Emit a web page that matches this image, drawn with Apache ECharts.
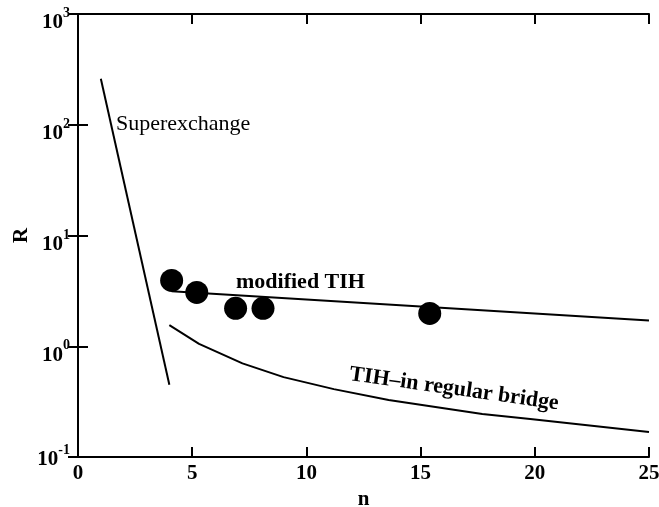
<!DOCTYPE html>
<html>
<head>
<meta charset="utf-8">
<script src="https://cdn.jsdelivr.net/npm/echarts@6/dist/echarts.min.js"></script>
<style>
  html, body { margin: 0; padding: 0; background: #fff; }
  #main { width: 659px; height: 507px; }
</style>
</head>
<body>
<div id="main"></div>
<script>
// Data
const superX = [1.0, 4.0];
const superY = [260, 0.45];

const modX = [4.1, 25];
const modY = [3.13, 1.71];

const dotX = [4.1, 5.2, 6.9, 8.1, 15.4];
const dotY = [3.93, 3.06, 2.2, 2.2, 1.98];

const bridgeX = [4.0, 5.3, 7.2, 9.0, 11.2, 13.6, 17.7, 19.8, 25];
const bridgeY = [1.55, 1.05, 0.70, 0.526, 0.41, 0.327, 0.244, 0.22, 0.168];

const xTicks = [0, 5, 10, 15, 20, 25];
const yExponents = [-1, 0, 1, 2, 3];

const zip = (xs, ys) => xs.map((x, i) => [x, ys[i]]);

var myChart = echarts.init(document.getElementById("main"));

const serif = "Liberation Serif";
const lineStyle = { color: "#000", width: 2 };

// 10^e labels, bottom one stays centred on its tick, others sit a bit lower
function yLabel(v) {
  let e = Math.round(Math.log10(v));
  if (yExponents.indexOf(e) < 0) return "";
  if (e === yExponents[0]) return "{b0|10}{s|" + e + "}";
  return "{b|10}{s|" + e + "}";
}

var option = {
  animation: false,
  textStyle: { fontFamily: serif },
  grid: { left: 78, right: 10, top: 14, bottom: 50, outerBoundsMode: "none" },
  xAxis: [
    {
      type: "value",
      min: 0,
      max: 25,
      interval: 5,
      name: "n",
      nameLocation: "middle",
      nameGap: 28,
      nameTextStyle: { fontFamily: serif, fontWeight: "bold", fontSize: 21, color: "#000" },
      axisLine: { lineStyle: lineStyle },
      axisTick: { inside: true, length: 10, lineStyle: lineStyle },
      axisLabel: {
        margin: 6,
        fontFamily: serif,
        fontWeight: "bold",
        fontSize: 21,
        color: "#000",
        formatter: (v) => (xTicks.indexOf(v) >= 0 ? String(v) : ""),
      },
      splitLine: { show: false },
    },
    {
      type: "value",
      position: "top",
      min: 0,
      max: 25,
      interval: 5,
      axisLine: { lineStyle: lineStyle },
      axisTick: { inside: true, length: 10, lineStyle: lineStyle },
      axisLabel: { show: false },
      splitLine: { show: false },
    },
  ],
  yAxis: [
    {
      type: "log",
      logBase: 10,
      min: 0.1,
      max: 1000,
      name: "R",
      nameLocation: "middle",
      nameRotate: 90,
      nameGap: 46,
      nameMoveOverlap: false,
      nameTextStyle: { fontFamily: serif, fontWeight: "bold", fontSize: 21, color: "#000" },
      axisLine: { show: true, lineStyle: lineStyle },
      axisTick: { inside: true, length: 10, lineStyle: lineStyle },
      axisLabel: {
        margin: 8,
        formatter: yLabel,
        rich: {
          b: { fontFamily: serif, fontWeight: "bold", fontSize: 21, color: "#000", verticalAlign: "bottom", padding: [18, 0, 0, 0] },
          b0: { fontFamily: serif, fontWeight: "bold", fontSize: 21, color: "#000", verticalAlign: "bottom" },
          s: { fontFamily: serif, fontWeight: "bold", fontSize: 14, color: "#000", verticalAlign: "bottom", padding: [0, 0, 13, 0] },
        },
      },
      splitLine: { show: false },
    },
    {
      type: "log",
      logBase: 10,
      min: 0.1,
      max: 1000,
      position: "right",
      axisLine: { show: true, lineStyle: lineStyle },
      axisTick: { inside: true, length: 10, lineStyle: lineStyle },
      axisLabel: { show: false },
      splitLine: { show: false },
    },
  ],
  series: [
    {
      name: "Superexchange",
      type: "line",
      data: zip(superX, superY),
      showSymbol: false,
      lineStyle: lineStyle,
    },
    {
      name: "modified TIH",
      type: "line",
      data: zip(modX, modY),
      showSymbol: false,
      lineStyle: lineStyle,
    },
    {
      name: "TIH-in regular bridge",
      type: "line",
      data: zip(bridgeX, bridgeY),
      showSymbol: false,
      lineStyle: lineStyle,
    },
    {
      name: "measured",
      type: "scatter",
      data: zip(dotX, dotY),
      symbol: "circle",
      symbolSize: 23,
      itemStyle: { color: "#000", opacity: 1 },
      z: 5,
    },
  ],
  graphic: [
    {
      type: "text",
      x: 116,
      y: 124,
      style: { text: "Superexchange", font: "22px 'Liberation Serif'", fill: "#000", verticalAlign: "middle" },
    },
    {
      type: "text",
      x: 236,
      y: 282,
      style: { text: "modified TIH", font: "bold 22px 'Liberation Serif'", fill: "#000", verticalAlign: "middle" },
    },
    {
      type: "text",
      x: 454,
      y: 389,
      rotation: -0.14,
      style: {
        text: "TIH\u2013in regular bridge",
        font: "bold 22px 'Liberation Serif'",
        fill: "#000",
        align: "center",
        verticalAlign: "middle",
      },
    },
  ],
};

myChart.setOption(option);
</script>
</body>
</html>
